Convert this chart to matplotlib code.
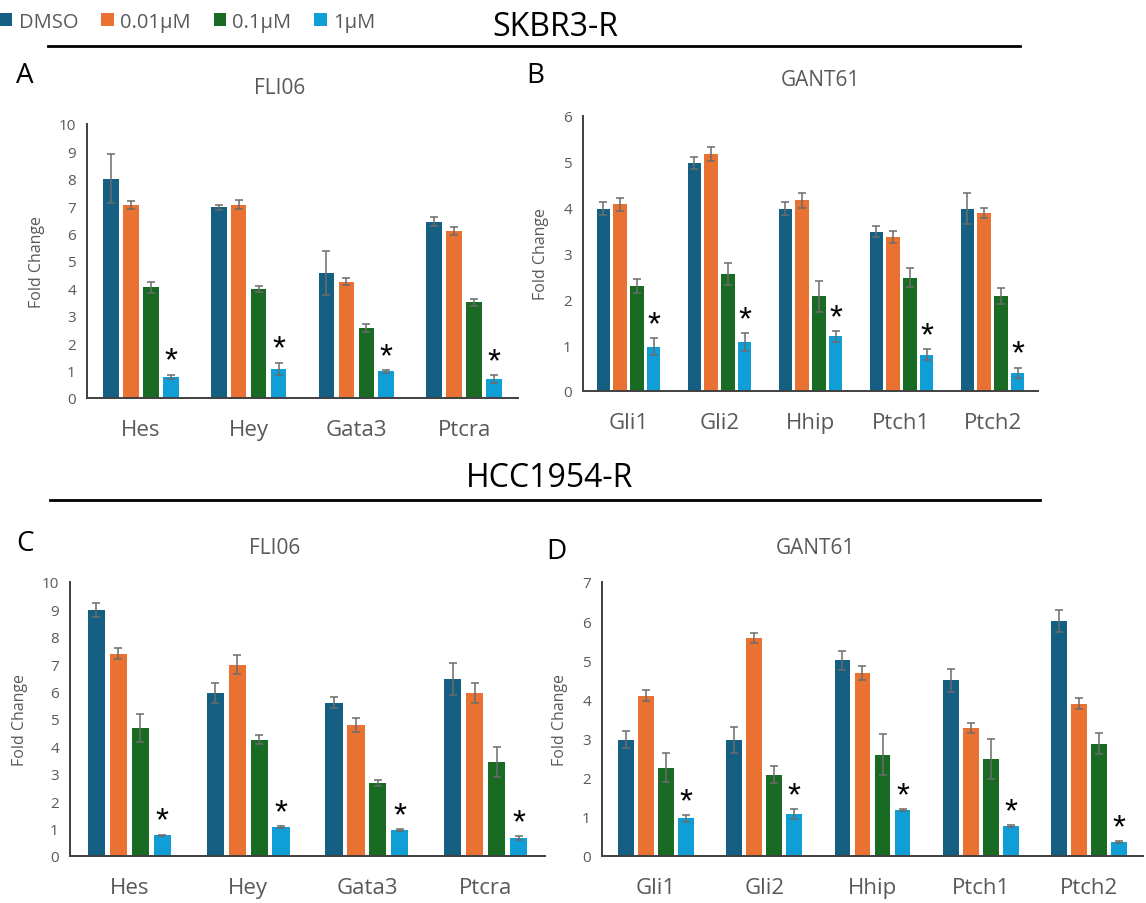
import matplotlib
matplotlib.use("Agg")
import matplotlib.pyplot as plt
import numpy as np

plt.rcParams['font.family'] = ['Open Sans', 'DejaVu Sans']

W, H = 1146, 904

# Treatment groups
treatments = ['DMSO', '0.01µM', '0.1µM', '1µM']
colors = ['#156082', '#E97132', '#196B24', '#0F9ED5']

notch_genes = ['Hes', 'Hey', 'Gata3', 'Ptcra']
hh_genes = ['Gli1', 'Gli2', 'Hhip', 'Ptch1', 'Ptch2']

# Panel A: SKBR3-R, FLI06 (rows = treatments, cols = genes)
a_vals = [[8.00, 6.96, 4.57, 6.44],
          [7.05, 7.06, 4.25, 6.09],
          [4.05, 3.99, 2.56, 3.49],
          [0.78, 1.07, 0.97, 0.68]]
a_err = [[0.90, 0.10, 0.80, 0.15],
         [0.15, 0.17, 0.14, 0.14],
         [0.20, 0.11, 0.15, 0.13],
         [0.07, 0.22, 0.04, 0.15]]

# Panel B: SKBR3-R, GANT61
b_vals = [[3.98, 4.98, 3.98, 3.48, 3.98],
          [4.07, 5.17, 4.16, 3.37, 3.89],
          [2.29, 2.56, 2.07, 2.47, 2.07],
          [0.97, 1.07, 1.19, 0.79, 0.40]]
b_err = [[0.15, 0.13, 0.14, 0.12, 0.33],
         [0.15, 0.15, 0.17, 0.13, 0.11],
         [0.15, 0.24, 0.34, 0.21, 0.18],
         [0.18, 0.20, 0.12, 0.12, 0.11]]

# Panel C: HCC1954-R, FLI06
c_vals = [[8.99, 5.95, 5.59, 6.46],
          [7.39, 6.98, 4.78, 5.95],
          [4.67, 4.24, 2.67, 3.43],
          [0.76, 1.07, 0.95, 0.65]]
c_err = [[0.25, 0.35, 0.20, 0.58],
         [0.20, 0.34, 0.24, 0.35],
         [0.51, 0.17, 0.10, 0.56],
         [0.02, 0.03, 0.03, 0.08]]

# Panel D: HCC1954-R, GANT61
d_vals = [[2.97, 2.97, 5.00, 4.49, 6.00],
          [4.10, 5.57, 4.67, 3.27, 3.89],
          [2.26, 2.08, 2.59, 2.48, 2.87],
          [0.96, 1.07, 1.18, 0.76, 0.36]]
d_err = [[0.22, 0.33, 0.24, 0.29, 0.29],
         [0.14, 0.13, 0.18, 0.14, 0.14],
         [0.36, 0.21, 0.53, 0.52, 0.26],
         [0.08, 0.13, 0.02, 0.03, 0.02]]

GRAY = '#595959'


def px_rect(left, right, y0, ytop):
    return [left / W, 1 - y0 / H, (right - left) / W, (y0 - ytop) / H]


def draw_panel(fig, rect, genes, vals, errs, ymax, title, title_xy, letter, letter_xy):
    ax = fig.add_axes(rect)
    x = np.arange(len(genes))
    width, pitch = 0.145, 0.185
    offsets = (np.arange(4) - 1.5) * pitch
    for i in range(4):
        ax.bar(x + offsets[i], vals[i], width, color=colors[i], label=treatments[i],
               yerr=errs[i], capsize=3,
               error_kw=dict(ecolor='#6b6b6b', elinewidth=1.1, capthick=1.1))
    # significance stars on the 1µM bars
    for j in range(len(genes)):
        top = vals[3][j] + errs[3][j]
        ax.annotate('*', (x[j] + offsets[3], top), xytext=(0, -2),
                    textcoords='offset pixels', ha='center', va='bottom',
                    fontsize=24, family='Liberation Sans', color='black')
    ax.set_xlim(-0.5, len(genes) - 0.5)
    ax.set_ylim(0, ymax)
    ax.set_yticks(range(0, ymax + 1))
    ax.set_xticks(x)
    ax.set_xticklabels(genes, fontsize=16, color=GRAY)
    ax.tick_params(axis='y', length=0, labelsize=11, labelcolor=GRAY, pad=8)
    ax.tick_params(axis='x', length=0, pad=15)
    for s in ['top', 'right']:
        ax.spines[s].set_visible(False)
    for s in ['left', 'bottom']:
        ax.spines[s].set_color('#404040')
        ax.spines[s].set_linewidth(1.4)
    ax.set_ylabel('Fold Change', fontsize=11.5, color=GRAY, labelpad=10)
    fig.text(title_xy[0] / W, 1 - title_xy[1] / H, title, fontsize=15, color=GRAY,
             ha='center', va='center')
    fig.text(letter_xy[0] / W, 1 - letter_xy[1] / H, letter, fontsize=20, color='black',
             ha='left', va='center')
    return ax


fig = plt.figure(figsize=(W / 100, H / 100), dpi=100)

ax_a = draw_panel(fig, px_rect(87, 518, 399, 125), notch_genes, a_vals, a_err, 10,
                  'FLI06', (280, 88), 'A', (16, 76))
draw_panel(fig, px_rect(583, 1038, 392, 117), hh_genes, b_vals, b_err, 6,
           'GANT61', (820, 80), 'B', (526, 76))
draw_panel(fig, px_rect(70, 545, 857, 583), notch_genes, c_vals, c_err, 10,
           'FLI06', (275, 548), 'C', (16, 544))
draw_panel(fig, px_rect(602, 1143, 857, 583), hh_genes, d_vals, d_err, 7,
           'GANT61', (815, 548), 'D', (546, 552))

# section headers with rules
fig.text(555 / W, 1 - 28 / H, 'SKBR3-R', fontsize=23, ha='center', va='center', color='black')
fig.add_artist(plt.Line2D([48 / W, 1020 / W], [1 - 47 / H] * 2, color='black', lw=2))
fig.text(550 / W, 1 - 479 / H, 'HCC1954-R', fontsize=23, ha='center', va='center', color='black')
fig.add_artist(plt.Line2D([50 / W, 1040 / W], [1 - 501 / H] * 2, color='black', lw=2))

handles, labels = ax_a.get_legend_handles_labels()
leg = fig.legend(handles, labels, loc='upper left', bbox_to_anchor=(0.0, 1 - 13 / H),
                 ncol=4, frameon=False, fontsize=14.5, handlelength=0.62, handleheight=0.62,
                 handletextpad=0.3, columnspacing=1.15, borderaxespad=0, borderpad=0)
for t in leg.get_texts():
    t.set_color(GRAY)

fig.savefig('out.png', dpi=100)
